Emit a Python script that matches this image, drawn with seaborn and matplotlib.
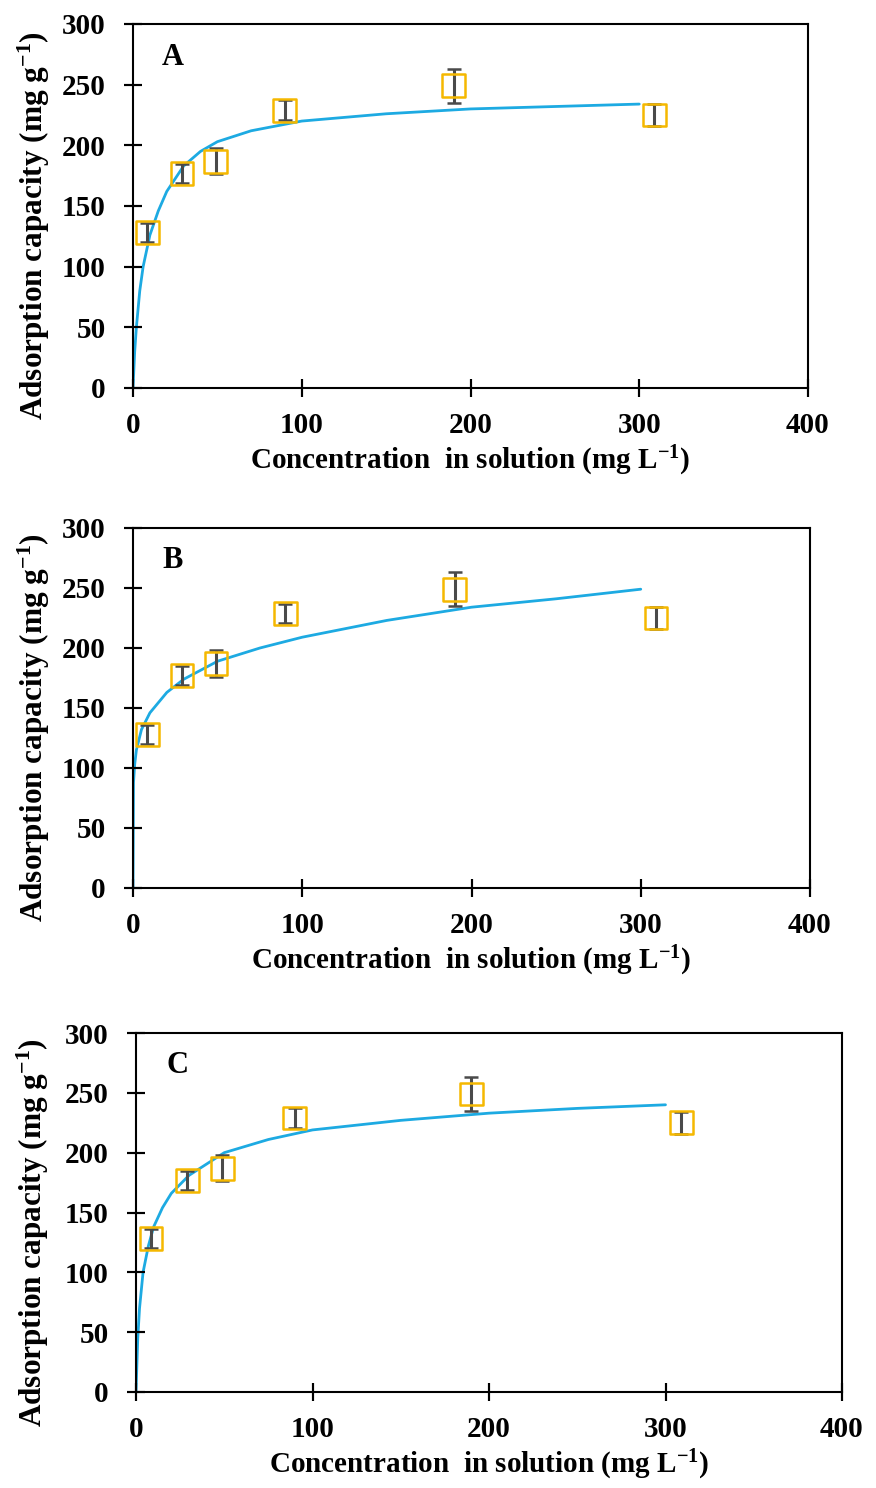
import numpy as np
import pandas as pd
import matplotlib
matplotlib.use("Agg")
import matplotlib.pyplot as plt
import seaborn as sns

# Measured equilibrium data (shared by all three panels)
conc_obs = [8.5, 29, 49, 90, 190, 309]
q_obs = [128, 177, 187, 229, 249, 225]
q_err = [8, 8, 11, 8, 14, 9]

# Fitted isotherm curves
fit_a_c = [0, 1, 2, 4, 6, 10, 15, 20, 30, 40, 50, 70, 100, 150, 200, 250, 300]
fit_a_q = [0, 30, 50, 80, 100, 126, 146, 162, 183, 195, 203, 212, 220, 226, 230, 232, 234]

fit_b_c = [0, 0.3, 1, 2, 5, 10, 20, 30, 50, 75, 100, 150, 200, 250, 300]
fit_b_q = [0, 88, 103, 115, 132, 146, 163, 174, 189, 200, 209, 223, 234, 241, 249]

fit_c_c = [0, 1, 2, 4, 7, 10, 15, 20, 30, 50, 75, 100, 150, 200, 250, 300]
fit_c_q = [0, 45, 70, 100, 122, 138, 154, 166, 181, 200, 211, 219, 227, 233, 237, 240]

panel_labels = ["A", "B", "C"]
x_ticks = [0, 100, 200, 300, 400]
y_ticks = [0, 50, 100, 150, 200, 250, 300]

sns.set_style("ticks")
rc = plt.rcParams
rc["font.family"] = ["Liberation Serif", "DejaVu Serif"]
rc["font.weight"] = "bold"
rc["mathtext.fontset"] = "custom"
rc["mathtext.rm"] = "Liberation Serif:bold"
rc["mathtext.bf"] = "Liberation Serif:bold"
rc["mathtext.default"] = "bf"
rc["axes.linewidth"] = 1.5
rc["axes.edgecolor"] = "black"
rc["axes.labelcolor"] = "black"
rc["axes.labelweight"] = "bold"
rc["axes.axisbelow"] = False
rc["text.color"] = "black"
rc["xtick.bottom"] = True
rc["xtick.top"] = False
rc["ytick.left"] = True
rc["ytick.right"] = False
rc["xtick.direction"] = "inout"
rc["ytick.direction"] = "inout"
rc["xtick.major.size"] = 13
rc["ytick.major.size"] = 13
rc["xtick.major.width"] = 1.5
rc["ytick.major.width"] = 1.5
rc["xtick.color"] = "black"
rc["ytick.color"] = "black"
rc["xtick.labelsize"] = 21
rc["ytick.labelsize"] = 21
rc["xtick.major.pad"] = 11
rc["ytick.major.pad"] = 13

fig = plt.figure(figsize=(8.76, 14.88), dpi=100)
W, H = 876.0, 1488.0


def px_rect(left, right, top, bottom):
    return (left / W, 1 - bottom / H, (right - left) / W, (bottom - top) / H)


rects = [
    px_rect(133, 808, 24, 388),
    px_rect(133, 810, 528, 888),
    px_rect(136, 842, 1033, 1392),
]
fits = [(fit_a_c, fit_a_q), (fit_b_c, fit_b_q), (fit_c_c, fit_c_q)]

curve_color = "#1DAAE2"
marker_color = "#F5B800"
err_color = "#4A4A4A"

for rect, (fc, fq), lab in zip(rects, fits, panel_labels):
    ax = fig.add_axes(rect)
    sns.lineplot(x=fc, y=fq, ax=ax, color=curve_color, linewidth=2.0,
                 sort=False, estimator=None)
    ax.errorbar(conc_obs, q_obs, yerr=q_err, fmt="none", ecolor=err_color,
                elinewidth=2.2, capsize=5, capthick=1.8)
    sns.scatterplot(x=conc_obs, y=q_obs, ax=ax, marker="s", s=270,
                    facecolor="none", edgecolor=marker_color, linewidth=1.8,
                    zorder=4)
    ax.set_xlim(0, 400)
    ax.set_ylim(0, 300)
    ax.set_xticks(x_ticks)
    ax.set_yticks(y_ticks)
    ax.set_xlabel("Concentration  in solution (mg L$^{-1}$)", fontsize=21,
                  labelpad=3)
    ax.set_ylabel("Adsorption capacity (mg g$^{-1}$)", fontsize=22.5)
    ax.yaxis.set_label_coords(-0.12, 0.445)
    ax.text(0.043, 0.909, lab, transform=ax.transAxes, fontsize=22,
            fontweight="bold", ha="left", va="center")

    # Cross-axis tick marks at the major tick positions
    for tk in ax.xaxis.get_major_ticks() + ax.yaxis.get_major_ticks():
        tk.tick1line.set_visible(True)
        tk.tick1line.set_markersize(13)
        tk.tick1line.set_markeredgewidth(1.5)
        tk.tick1line.set_markeredgecolor("black")
    ax.plot(x_ticks, [0] * len(x_ticks), transform=ax.get_xaxis_transform(),
            linestyle="none", marker="|", markersize=13, markeredgewidth=1.5,
            color="black", clip_on=False, zorder=6)
    ax.plot([0] * len(y_ticks), y_ticks, transform=ax.get_yaxis_transform(),
            linestyle="none", marker="_", markersize=13, markeredgewidth=1.5,
            color="black", clip_on=False, zorder=6)

fig.savefig("out.png", dpi=100)
